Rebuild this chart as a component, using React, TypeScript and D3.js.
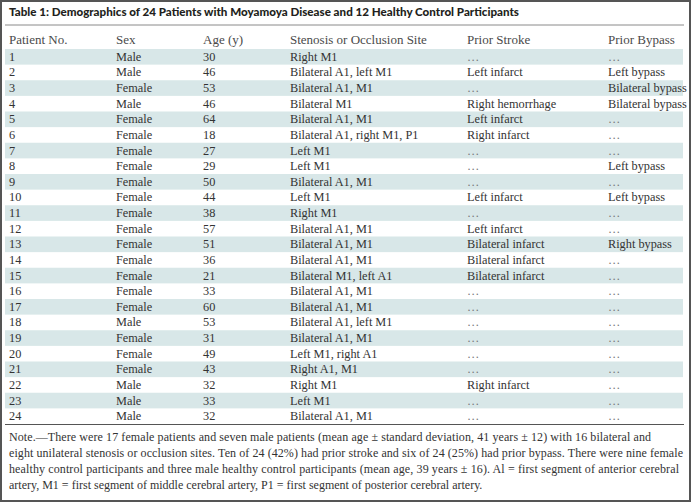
import React from "react";
import * as d3 from "d3";

const title = "Table 1: Demographics of 24 Patients with Moyamoya Disease and 12 Healthy Control Participants";
const headers = ["Patient No.", "Sex", "Age (y)", "Stenosis or Occlusion Site", "Prior Stroke", "Prior Bypass"];
const patientNo = ["1","2","3","4","5","6","7","8","9","10","11","12","13","14","15","16","17","18","19","20","21","22","23","24"];
const sex = ["Male","Male","Female","Male","Female","Female","Female","Female","Female","Female","Female","Female","Female","Female","Female","Female","Female","Male","Female","Female","Female","Male","Male","Male"];
const age = ["30","46","53","46","64","18","27","29","50","44","38","57","51","36","21","33","60","53","31","49","43","32","33","32"];
const site = [
  "Right M1","Bilateral A1, left M1","Bilateral A1, M1","Bilateral M1","Bilateral A1, M1","Bilateral A1, right M1, P1",
  "Left M1","Left M1","Bilateral A1, M1","Left M1","Right M1","Bilateral A1, M1","Bilateral A1, M1","Bilateral A1, M1",
  "Bilateral M1, left A1","Bilateral A1, M1","Bilateral A1, M1","Bilateral A1, left M1","Bilateral A1, M1","Left M1, right A1",
  "Right A1, M1","Right M1","Left M1","Bilateral A1, M1"
];
const stroke = [
  "…","Left infarct","…","Right hemorrhage","Left infarct","Right infarct","…","…","…","Left infarct","…","Left infarct",
  "Bilateral infarct","Bilateral infarct","Bilateral infarct","…","…","…","…","…","…","Right infarct","…","…"
];
const bypass = [
  "…","Left bypass","Bilateral bypass","Bilateral bypass","…","…","…","Left bypass","…","Left bypass","…","…",
  "Right bypass","…","…","…","…","…","…","…","…","…","…","…"
];
const noteLines = [
  "Note.—There were 17 female patients and seven male patients (mean age ± standard deviation, 41 years ± 12) with 16 bilateral and",
  "eight unilateral stenosis or occlusion sites. Ten of 24 (42%) had prior stroke and six of 24 (25%) had prior bypass. There were nine female",
  "healthy control participants and three male healthy control participants (mean age, 39 years ± 16). Al = first segment of anterior cerebral",
  "artery, M1 = first segment of middle cerebral artery, P1 = first segment of posterior cerebral artery."
];

const W = 691, H = 502;
const SERIF = "'Liberation Serif', 'Times New Roman', serif";

export default function App() {
  const columns = [patientNo, sex, age, site, stroke, bypass];
  const xCol = d3.scaleOrdinal<number, number>().domain(d3.range(6)).range([9, 116, 203, 290, 467, 608]);
  const yRow = d3.scaleBand<string>().domain(patientNo).range([49, 424]).paddingInner(0);
  const yNote = d3.scaleLinear().domain([0, 3]).range([441, 489]);
  const noteWidths = [642, 674, 670, null];

  return (
    <svg width={W} height={H} style={{ position: "absolute", left: 0, top: 0, background: "#fff" }}>
      <rect x={1} y={1} width={W - 2} height={H - 2} fill="#fff" stroke="#555" strokeWidth={2} />
      <text x={9} y={16} fontFamily="Lato, 'DejaVu Sans', sans-serif" fontWeight={900} fontSize={11.5}
        fill="#231f20" textLength={510} lengthAdjust="spacingAndGlyphs">{title}</text>
      <line x1={5} x2={684} y1={25} y2={25} stroke="#8a8a8a" strokeWidth={1} />
      {headers.map((h, i) => (
        <text key={h} x={xCol(i)} y={44} fontFamily={SERIF} fontSize={13} fill="#4a4a4a">{h}</text>
      ))}
      {patientNo.map((p, r) => (
        <g key={p}>
          {r % 2 === 0 && (
            <rect x={5} y={yRow(p)} width={678} height={yRow.bandwidth()} fill="#d8e7e8" />
          )}
          {columns.map((col, c) => (
            <text key={c} x={xCol(c)} y={(yRow(p) as number) + yRow.bandwidth() / 2 + 4}
              fontFamily={SERIF} fontSize={12.3}
              fill={col[r] === "…" ? "#777" : "#333"}>{col[r]}</text>
          ))}
        </g>
      ))}
      <line x1={5} x2={684} y1={424.5} y2={424.5} stroke="#555" strokeWidth={1} />
      {noteLines.map((t, i) => (
        <text key={i} x={9} y={yNote(i)} fontFamily={SERIF} fontSize={12} fill="#333"
          {...(noteWidths[i] ? { textLength: noteWidths[i] as number, lengthAdjust: "spacing" } : {})}>{t}</text>
      ))}
    </svg>
  );
}
